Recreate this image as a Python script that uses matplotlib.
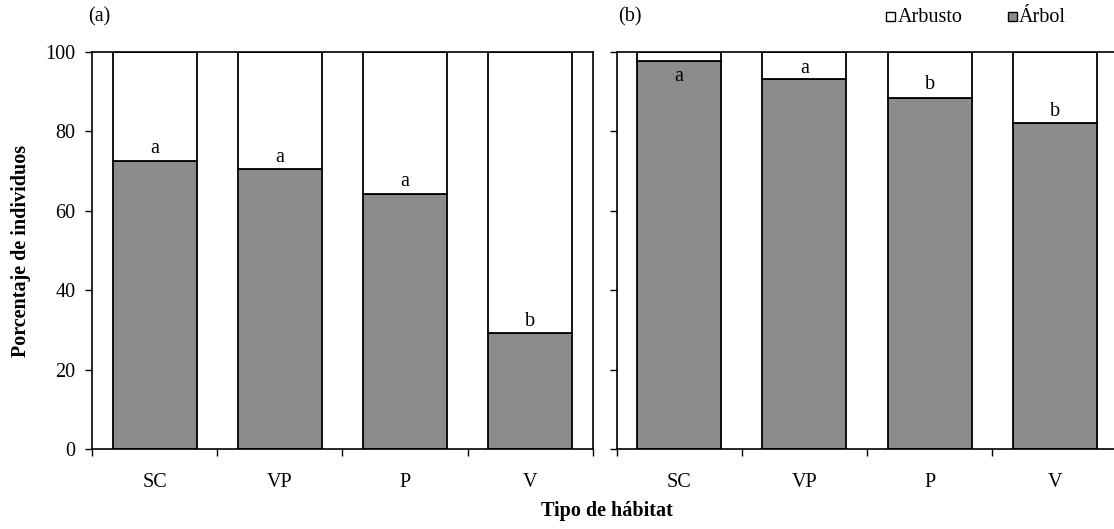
import numpy as np
import matplotlib
matplotlib.use('Agg')
import matplotlib.pyplot as plt
from matplotlib.patches import Rectangle

plt.rcParams['font.family'] = ['Liberation Serif', 'DejaVu Serif']

# data
habitats = ['SC', 'VP', 'P', 'V']
arbol_a = [72.5, 70.5, 64.3, 29.2]
arbol_b = [97.8, 93.2, 88.5, 82.0]
letters_a = ['a', 'a', 'a', 'b']
letters_b = ['a', 'a', 'b', 'b']
# where the letter sits (value in % units)
letter_y_a = [75.8, 73.5, 67.3, 32.2]
letter_y_b = [93.8, 95.8, 91.7, 85.0]

gray = '#8c8c8c'
fs = 14.5

fig = plt.figure(figsize=(11.14, 5.29), dpi=100)
ax1 = fig.add_axes([92/1114, 1-449/529, 501/1114, 397/529])
ax2 = fig.add_axes([616.5/1114, 1-449/529, 501/1114, 397/529])

x = np.arange(len(habitats))
for ax, arb, lets, ly in [(ax1, arbol_a, letters_a, letter_y_a),
                          (ax2, arbol_b, letters_b, letter_y_b)]:
    arbusto = [100 - v for v in arb]
    ax.bar(x, arb, width=0.67, color=gray, edgecolor='black', linewidth=1.3)
    ax.bar(x, arbusto, bottom=arb, width=0.67, color='white', edgecolor='black', linewidth=1.3)
    for xi, l, yy in zip(x, lets, ly):
        ax.text(xi, yy, l, ha='center', va='center', fontsize=fs)
    ax.set_xlim(-0.5, 3.5)
    ax.set_ylim(0, 100)
    ax.set_xticks(np.arange(-0.5, 4.0, 1.0))
    ax.set_xticklabels([])
    ax.set_xticks(x, minor=True)
    ax.set_xticklabels(habitats, minor=True, fontsize=fs)
    ax.tick_params(axis='x', which='minor', length=0, pad=17)
    ax.tick_params(axis='x', which='major', direction='out', length=5, width=1)
    ax.set_yticks(range(0, 101, 20))
    ax.tick_params(axis='y', direction='out', length=5, width=1, labelsize=fs, pad=7)
    for s in ax.spines.values():
        s.set_linewidth(1.2)

ax2.set_yticklabels([])
ax2.spines['right'].set_visible(False)

ax1.set_ylabel('Porcentaje de individuos', fontsize=fs, fontweight='bold', labelpad=10)
fig.text(607/1114, 1-511/529, 'Tipo de hábitat', ha='center', va='center',
         fontsize=fs, fontweight='bold')

fig.text(99/1114, 1-17/529, '(a)', ha='center', va='center', fontsize=fs)
fig.text(630/1114, 1-17/529, '(b)', ha='center', va='center', fontsize=fs)

# legend
fig.patches.append(Rectangle((886/1114, 1-21/529), 9/1114, 9/529, transform=fig.transFigure,
                             facecolor='white', edgecolor='black', linewidth=1))
fig.text(898/1114, 1-18/529, 'Arbusto', ha='left', va='center', fontsize=fs)
fig.patches.append(Rectangle((1008/1114, 1-21/529), 9/1114, 9/529, transform=fig.transFigure,
                             facecolor=gray, edgecolor='black', linewidth=1))
fig.text(1019/1114, 1-18/529, 'Árbol', ha='left', va='center', fontsize=fs)

fig.savefig('out.png', dpi=100)
